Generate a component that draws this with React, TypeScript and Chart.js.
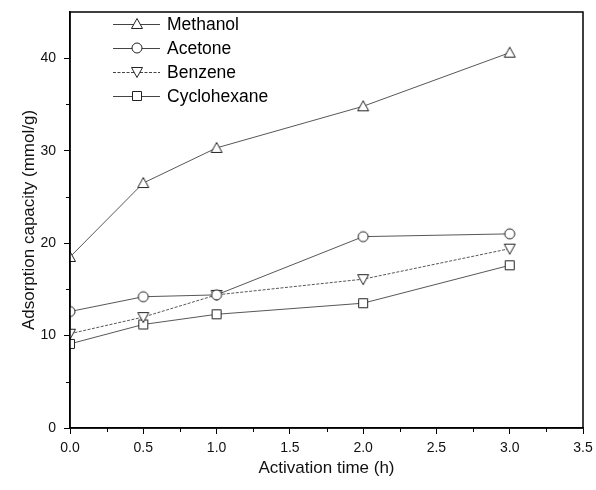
import React, { useEffect, useRef } from "react";
import { Chart, registerables } from "chart.js";

Chart.register(...registerables);

const activationTimes = [0, 0.5, 1.0, 2.0, 3.0];
const methanol = [18.5, 26.5, 30.3, 34.8, 40.6];
const acetone = [12.6, 14.2, 14.4, 20.7, 21.0];
const benzene = [10.2, 12.0, 14.4, 16.1, 19.4];
const cyclohexane = [9.1, 11.2, 12.3, 13.5, 17.6];

const seriesNames = ["Methanol", "Acetone", "Benzene", "Cyclohexane"];
const seriesMarkers = ["triangle", "circle", "invertedTriangle", "rect"];
const xTickLabels = ["0.0", "0.5", "1.0", "1.5", "2.0", "2.5", "3.0", "3.5"];
const yTickLabels = ["0", "10", "20", "30", "40"];

const FONT = "'Liberation Sans', Arial, sans-serif";
const LINE = "#444";
const MARK = "#222";

function markerCanvas(kind: string): HTMLCanvasElement {
  const c = document.createElement("canvas");
  const s = 14;
  c.width = s;
  c.height = s;
  const g = c.getContext("2d")!;
  g.strokeStyle = MARK;
  g.fillStyle = "#fff";
  g.lineWidth = 1;
  g.beginPath();
  if (kind === "triangle") {
    g.moveTo(7, 1.5);
    g.lineTo(12.5, 11.5);
    g.lineTo(1.5, 11.5);
    g.closePath();
  } else if (kind === "invertedTriangle") {
    g.moveTo(1.5, 2.5);
    g.lineTo(12.5, 2.5);
    g.lineTo(7, 12.5);
    g.closePath();
  } else if (kind === "circle") {
    g.arc(7, 7, 5, 0, Math.PI * 2);
  } else {
    g.rect(2.5, 2.5, 9, 9);
  }
  g.fill();
  g.stroke();
  return c;
}

const extrasPlugin = {
  id: "extras",
  afterDraw(chart: any) {
    const { ctx, chartArea, scales } = chart;
    const xs = scales.x;
    const ys = scales.y;
    ctx.save();
    ctx.strokeStyle = "#000";
    ctx.lineWidth = 1.5;
    ctx.beginPath();
    ctx.rect(chartArea.left, chartArea.top, chartArea.right - chartArea.left, chartArea.bottom - chartArea.top);
    ctx.stroke();
    ctx.lineWidth = 1;
    // minor ticks
    ctx.beginPath();
    for (let v = 5; v < 45; v += 10) {
      const py = Math.round(ys.getPixelForValue(v)) + 0.5;
      ctx.moveTo(chartArea.left, py);
      ctx.lineTo(chartArea.left - 4, py);
    }
    for (let v = 0.25; v < 3.5; v += 0.5) {
      const px = Math.round(xs.getPixelForValue(v)) + 0.5;
      ctx.moveTo(px, chartArea.bottom);
      ctx.lineTo(px, chartArea.bottom + 4);
    }
    ctx.stroke();

    // legend
    const lx = chartArea.left + 43;
    let ly = chartArea.top + 12;
    ctx.font = `17.5px ${FONT}`;
    ctx.textBaseline = "middle";
    ctx.fillStyle = "#000";
    seriesNames.forEach((name, i) => {
      ctx.strokeStyle = LINE;
      ctx.lineWidth = 1;
      ctx.setLineDash(i === 2 ? [3, 1.5] : []);
      ctx.beginPath();
      ctx.moveTo(lx, ly + 0.5);
      ctx.lineTo(lx + 47, ly + 0.5);
      ctx.stroke();
      ctx.setLineDash([]);
      ctx.drawImage(markerCanvas(seriesMarkers[i]), lx + 24 - 7, ly - 7);
      ctx.fillText(name, lx + 54, ly + 1);
      ly += 24;
    });
    ctx.restore();
  },
};

export default function App() {
  const ref = useRef<HTMLCanvasElement>(null);
  useEffect(() => {
    const allSeries = [methanol, acetone, benzene, cyclohexane];
    const chart = new Chart(ref.current!, {
      type: "scatter",
      data: {
        datasets: allSeries.map((vals, i) => ({
          label: seriesNames[i],
          data: vals.map((y, j) => ({ x: activationTimes[j], y })),
          showLine: true,
          borderColor: LINE,
          borderWidth: 0.9,
          borderDash: i === 2 ? [3, 1.5] : [],
          pointStyle: markerCanvas(seriesMarkers[i]) as any,
          pointRadius: 6,
          pointHoverRadius: 6,
        })),
      },
      options: {
        animation: false,
        responsive: false,
        events: [],
        layout: { padding: { top: 12, right: 13, left: 0, bottom: 0 } },
        plugins: { legend: { display: false }, tooltip: { enabled: false } },
        scales: {
          x: {
            type: "linear",
            min: 0,
            max: 3.5,
            afterFit: (s: any) => {
              s.height = 62;
              s.paddingLeft = 0;
              s.paddingRight = 0;
            },
            border: { display: true, color: "#000", width: 1.5 },
            grid: { display: true, drawOnChartArea: false, drawTicks: true, tickLength: 6, color: "#000" },
            ticks: {
              stepSize: 0.5,
              padding: 6,
              color: "#111",
              font: { family: FONT, size: 14 },
              callback: (v: any) => xTickLabels[Math.round(Number(v) * 2)] ?? "",
              maxRotation: 0,
            },
            title: {
              display: true,
              text: "Activation time (h)",
              color: "#111",
              font: { family: FONT, size: 17 },
              padding: { top: 0, bottom: 11 },
            },
          },
          y: {
            type: "linear",
            min: 0,
            max: 45,
            afterFit: (s: any) => {
              s.width = 70;
              s.paddingTop = 0;
              s.paddingBottom = 0;
            },
            border: { display: true, color: "#000", width: 1.5 },
            grid: { display: true, drawOnChartArea: false, drawTicks: true, tickLength: 6, color: "#000" },
            ticks: {
              stepSize: 10,
              includeBounds: false,
              padding: 8,
              color: "#111",
              font: { family: FONT, size: 14 },
              callback: (v: any) => yTickLabels[Math.round(Number(v) / 10)] ?? "",
            },
            title: {
              display: true,
              text: "Adsorption capacity (mmol/g)",
              color: "#111",
              font: { family: FONT, size: 17 },
              padding: { top: 19, bottom: 0 },
            },
          },
        },
      },
      plugins: [extrasPlugin],
    });
    return () => chart.destroy();
  }, []);
  return (
    <div style={{ position: "fixed", left: 0, top: 0, width: 596, height: 490, background: "#fff" }}>
      <canvas ref={ref} width={596} height={490} style={{ width: 596, height: 490 }} />
    </div>
  );
}
